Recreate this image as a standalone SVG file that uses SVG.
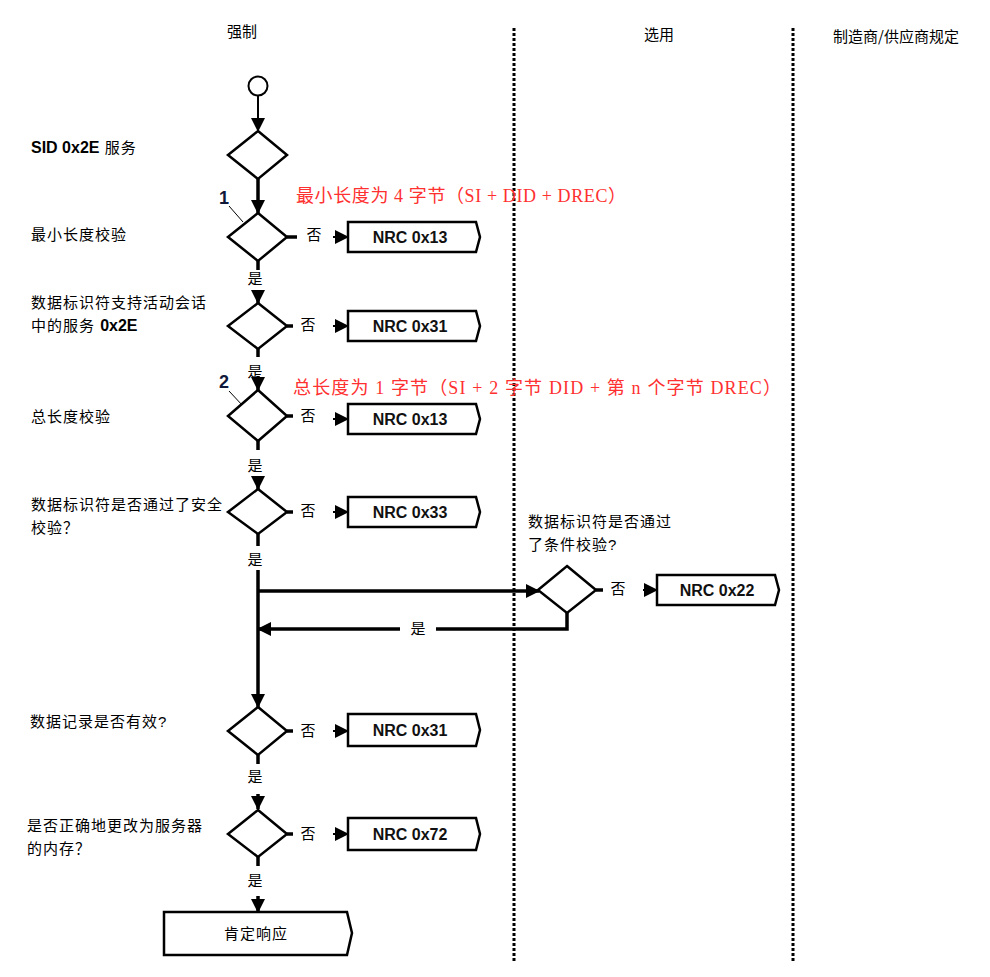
<svg xmlns="http://www.w3.org/2000/svg" width="990" height="977" viewBox="0 0 990 977">
<style>
.bg{fill:#fff}
.lane{stroke:#000;stroke-width:3;stroke-dasharray:3 2;fill:none}
.t{font-family:"Liberation Sans","Noto Sans CJK SC",sans-serif;font-size:15px;letter-spacing:1px;fill:#000}
.h{font-family:"Noto Sans CJK SC",sans-serif;font-size:15px;fill:#000;text-anchor:middle}
.b{font-family:"Liberation Sans","Noto Sans CJK SC",sans-serif;font-size:16px;font-weight:bold;fill:#111}
.yn{font-family:"Noto Sans CJK SC",sans-serif;font-size:15px;fill:#000;text-anchor:middle}
.red{font-family:"Liberation Serif","Noto Sans CJK SC",serif;font-size:18px;fill:#ff3030}
.num{font-family:"Liberation Sans",sans-serif;font-size:18px;font-weight:bold;fill:#10183a}
.dia{fill:#fff;stroke:#000;stroke-width:2.5}
.box{fill:#fff;stroke:#000;stroke-width:2.5}
.thick{stroke:#000;stroke-width:3.5;fill:none}
.thin{stroke:#000;stroke-width:2;fill:none}
.lead{stroke:#000;stroke-width:1;fill:none}
</style>
<defs>
<marker id="ah" markerUnits="userSpaceOnUse" markerWidth="14" markerHeight="14" refX="13" refY="7" orient="auto" viewBox="0 0 14 14">
<path d="M0,0 L14,7 L0,14 z" fill="#000"/>
</marker>
</defs>
<rect class="bg" x="0" y="0" width="990" height="977"/>

<g id="lanes">
<line class="lane" x1="514" y1="28" x2="514" y2="962"/>
<line class="lane" x1="793" y1="28" x2="793" y2="962"/>
<text class="h" x="242" y="37">强制</text>
<text class="h" x="659" y="40">选用</text>
<text class="h" x="896" y="42">制造商/供应商规定</text>
</g>

<g id="labels">
<text class="t" x="31" y="153"><tspan font-weight="bold" font-size="16" letter-spacing="0">SID 0x2E</tspan> 服务</text>
<text class="t" x="31" y="240">最小长度校验</text>
<text class="t" x="31" y="308">数据标识符支持活动会话</text>
<text class="t" x="31" y="331">中的服务 <tspan font-weight="bold" font-size="16" letter-spacing="0">0x2E</tspan></text>
<text class="t" x="31" y="422">总长度校验</text>
<text class="t" x="31" y="510">数据标识符是否通过了安全</text>
<text class="t" x="31" y="533">校验？</text>
<text class="t" x="30" y="727">数据记录是否有效?</text>
<text class="t" x="27" y="831">是否正确地更改为服务器</text>
<text class="t" x="27" y="854">的内存？</text>
<text class="t" x="528" y="527">数据标识符是否通过</text>
<text class="t" x="528" y="550">了条件校验?</text>
<text class="red" x="296" y="202" textLength="330" lengthAdjust="spacing">最小长度为 4 字节（SI + DID + DREC）</text>
<text class="red" x="293" y="394" textLength="488" lengthAdjust="spacing">总长度为 1 字节（SI + 2 字节 DID + 第 n 个字节 DREC）</text>
</g>

<g id="connectors">
<line class="thin" x1="258" y1="96" x2="258" y2="131" marker-end="url(#ah)"/>
<line class="thick" x1="258" y1="179" x2="258" y2="213" marker-end="url(#ah)"/>
<line class="thick" x1="258" y1="261" x2="258" y2="270"/>
<line class="thick" x1="258" y1="290" x2="258" y2="303" marker-end="url(#ah)"/>
<line class="thick" x1="258" y1="349" x2="258" y2="357"/>
<line class="thick" x1="258" y1="376" x2="258" y2="390" marker-end="url(#ah)"/>
<line class="thick" x1="258" y1="441" x2="258" y2="450"/>
<line class="thick" x1="258" y1="476" x2="258" y2="489" marker-end="url(#ah)"/>
<line class="thick" x1="258" y1="534" x2="258" y2="546"/>
<line class="thick" x1="258" y1="570" x2="258" y2="707" marker-end="url(#ah)"/>
<line class="thick" x1="258" y1="591" x2="539" y2="591" marker-end="url(#ah)"/>
<polyline class="thick" points="567,613 567,629 436,629"/>
<line class="thick" x1="400" y1="629" x2="258" y2="629" marker-end="url(#ah)"/>
<line class="thick" x1="258" y1="755" x2="258" y2="764"/>
<line class="thick" x1="258" y1="794" x2="258" y2="809" marker-end="url(#ah)"/>
<line class="thick" x1="258" y1="857" x2="258" y2="866"/>
<line class="thick" x1="258" y1="896" x2="258" y2="912" marker-end="url(#ah)"/>
<line class="thick" x1="287" y1="237" x2="297" y2="237"/>
<line class="thin" x1="333" y1="237" x2="348" y2="237" marker-end="url(#ah)"/>
<line class="thick" x1="287" y1="326" x2="293" y2="326"/>
<line class="thin" x1="333" y1="326" x2="348" y2="326" marker-end="url(#ah)"/>
<line class="thick" x1="287" y1="416" x2="293" y2="416"/>
<line class="thin" x1="333" y1="419" x2="348" y2="419" marker-end="url(#ah)"/>
<line class="thick" x1="287" y1="512" x2="293" y2="512"/>
<line class="thin" x1="333" y1="512" x2="348" y2="512" marker-end="url(#ah)"/>
<line class="thick" x1="596" y1="590" x2="603" y2="590"/>
<line class="thin" x1="643" y1="590" x2="657" y2="590" marker-end="url(#ah)"/>
<line class="thick" x1="287" y1="731" x2="293" y2="731"/>
<line class="thin" x1="333" y1="731" x2="348" y2="731" marker-end="url(#ah)"/>
<line class="thick" x1="287" y1="834" x2="293" y2="834"/>
<line class="thin" x1="333" y1="834" x2="348" y2="834" marker-end="url(#ah)"/>
<line class="lead" x1="229" y1="206" x2="243" y2="222"/>
<line class="lead" x1="229" y1="391" x2="243" y2="406"/>
<text class="yn" x="255" y="284">是</text>
<text class="yn" x="255" y="377">是</text>
<text class="yn" x="255" y="471">是</text>
<text class="yn" x="255" y="565">是</text>
<text class="yn" x="418" y="634">是</text>
<text class="yn" x="255" y="782">是</text>
<text class="yn" x="255" y="886">是</text>
<text class="yn" x="314" y="240">否</text>
<text class="yn" x="308" y="330">否</text>
<text class="yn" x="308" y="421">否</text>
<text class="yn" x="308" y="516">否</text>
<text class="yn" x="618" y="594">否</text>
<text class="yn" x="308" y="736">否</text>
<text class="yn" x="308" y="839">否</text>
</g>

<g id="start"><circle cx="258" cy="86" r="9.5" fill="#fff" stroke="#000" stroke-width="2"/></g>

<g id="d1"><polygon class="dia" points="258,131 287,155 258,179 228,155"/></g>
<g id="d2"><polygon class="dia" points="258,213 287,237 258,261 228,237"/>
<text class="num" x="224" y="204" text-anchor="middle">1</text></g>
<g id="d3"><polygon class="dia" points="258,303 287,326 258,349 228,326"/></g>
<g id="d4"><polygon class="dia" points="258,390 287,416 258,441 228,416"/>
<text class="num" x="224" y="388" text-anchor="middle">2</text></g>
<g id="d5"><polygon class="dia" points="258,489 287,512 258,534 228,512"/></g>
<g id="d7"><polygon class="dia" points="567,566 596,590 567,613 538,590"/></g>
<g id="d6"><polygon class="dia" points="258,707 287,731 258,755 228,731"/></g>
<g id="d8"><polygon class="dia" points="258,810 287,834 258,857 228,834"/></g>

<g id="n1"><path class="box" d="M348,222 H476 L480,237 L476,252 H348 Z"/><text class="b" x="410" y="243" text-anchor="middle">NRC 0x13</text></g>
<g id="n2"><path class="box" d="M348,311 H476 L480,326 L476,341 H348 Z"/><text class="b" x="410" y="332" text-anchor="middle">NRC 0x31</text></g>
<g id="n3"><path class="box" d="M348,404 H476 L480,419 L476,434 H348 Z"/><text class="b" x="410" y="425" text-anchor="middle">NRC 0x13</text></g>
<g id="n4"><path class="box" d="M348,497 H476 L480,512 L476,527 H348 Z"/><text class="b" x="410" y="518" text-anchor="middle">NRC 0x33</text></g>
<g id="n5"><path class="box" d="M657,575 H775 L779,590 L775,605 H657 Z"/><text class="b" x="717" y="596" text-anchor="middle">NRC 0x22</text></g>
<g id="n6"><path class="box" d="M348,714 H476 L480,730 L476,746 H348 Z"/><text class="b" x="410" y="736" text-anchor="middle">NRC 0x31</text></g>
<g id="n7"><path class="box" d="M348,818 H476 L480,834 L476,850 H348 Z"/><text class="b" x="410" y="840" text-anchor="middle">NRC 0x72</text></g>
<g id="pos"><path class="box" d="M164,912 H347 L352,933 L347,955 H164 Z"/><text class="t" x="256" y="939" text-anchor="middle" letter-spacing="3">肯定响应</text></g>
</svg>
